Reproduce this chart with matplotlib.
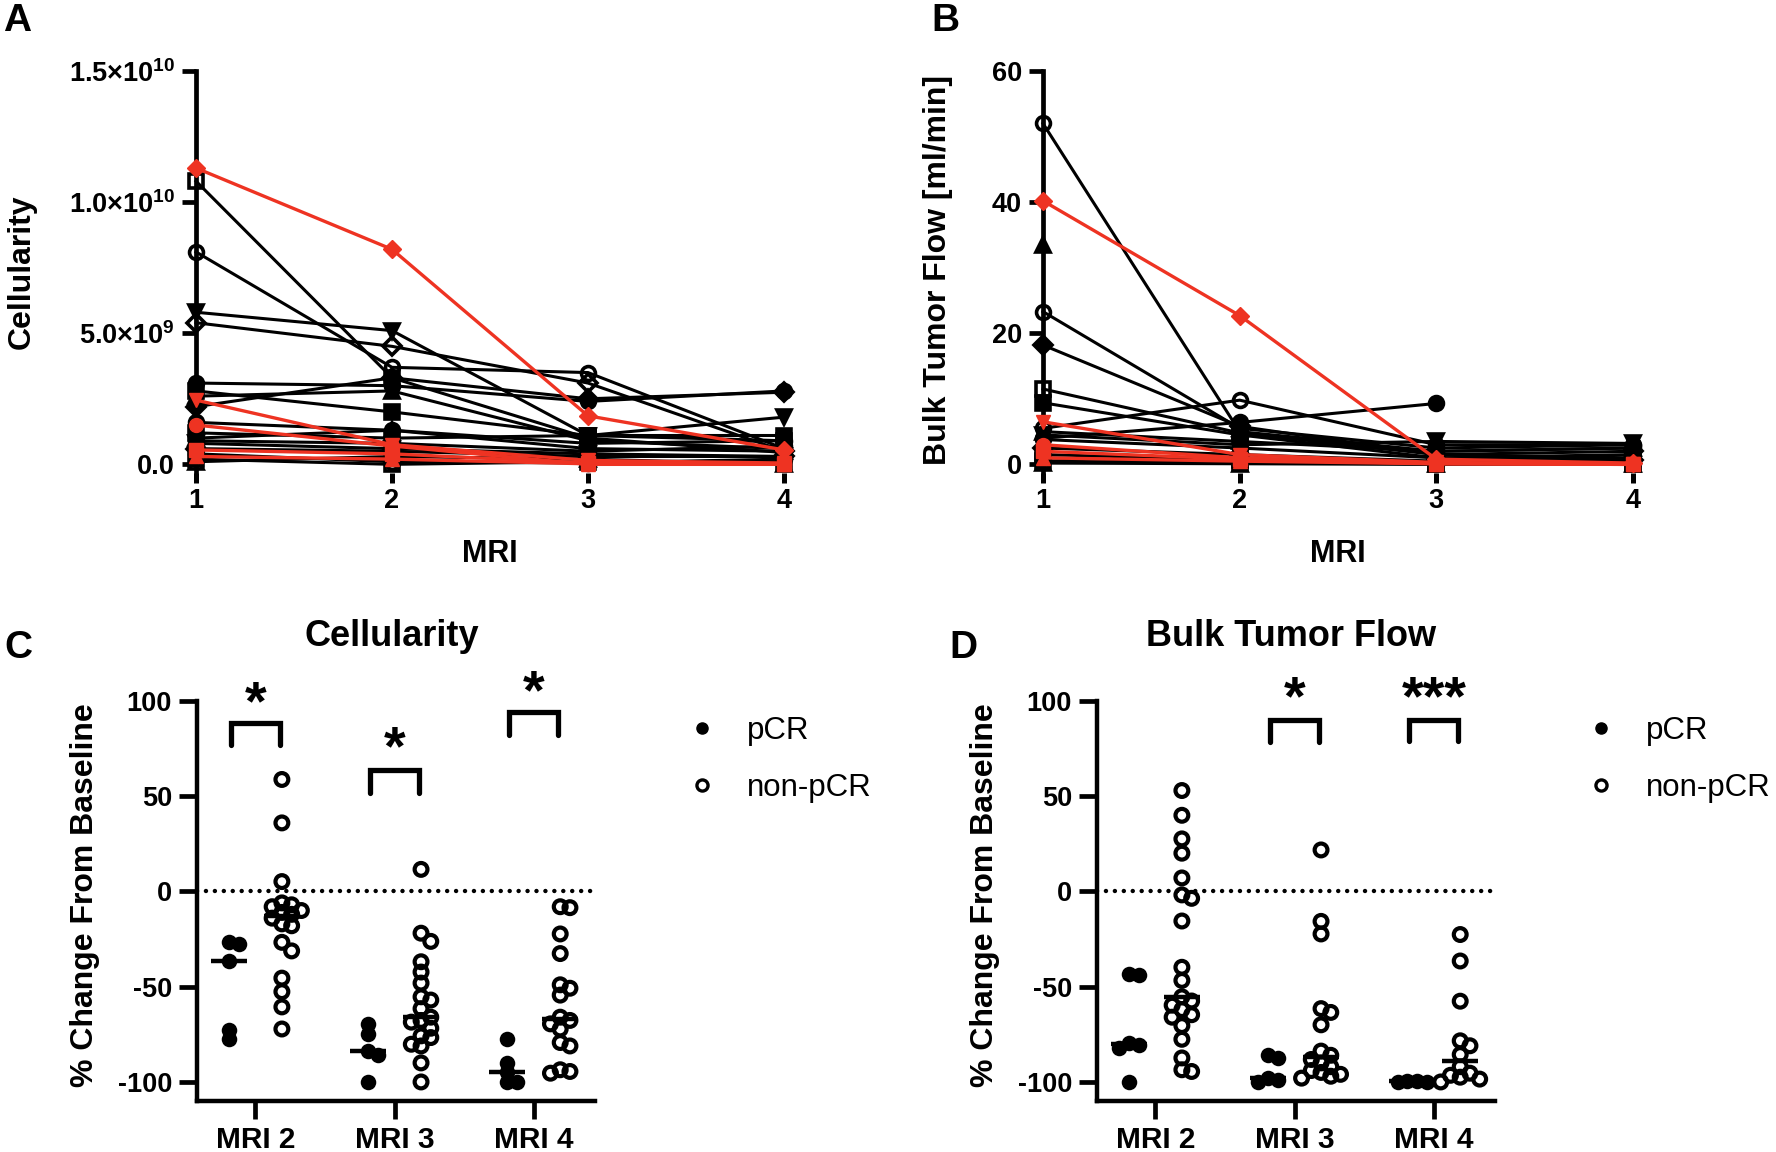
import numpy as np
import matplotlib.pyplot as plt
from matplotlib.lines import Line2D

plt.rcParams['font.family'] = ['Liberation Sans', 'DejaVu Sans']
plt.rcParams['font.weight'] = 'bold'
plt.rcParams['axes.labelweight'] = 'bold'
plt.rcParams['axes.unicode_minus'] = False
plt.rcParams['mathtext.fontset'] = 'custom'
plt.rcParams['mathtext.rm'] = 'Liberation Sans:bold'
plt.rcParams['mathtext.default'] = 'rm'

RED = '#EE3322'

# ---- panel A / B: per-patient values at MRI 1..4 ----
visits = [1, 2, 3, 4]

# cellularity, in units of 1e9 cells
cell_pcr = [
    [11.3, 8.2, 1.85, 0.55],
    [2.45, 0.75, 0.15, 0.05],
    [1.5, 0.7, 0.0, 0.0],
    [0.55, 0.4, 0.05, 0.02],
    [0.3, 0.2, 0.02, 0.0],
]
cell_non = [
    [10.8, 3.3, 1.0, 0.45],
    [8.1, 3.7, 3.5, 0.6],
    [5.8, 5.1, 1.1, 1.8],
    [5.4, 4.5, 3.1, 0.5],
    [3.1, 3.0, 2.4, 2.8],
    [2.2, 3.3, 2.5, 2.75],
    [2.8, 2.0, 1.1, 0.9],
    [2.6, 2.8, 0.9, 0.6],
    [1.6, 1.3, 0.8, 0.9],
    [1.2, 1.0, 1.1, 1.1],
    [1.0, 1.3, 0.6, 0.5],
    [0.8, 0.6, 0.4, 0.3],
    [0.6, 0.5, 0.3, 0.3],
    [0.9, 0.8, 0.5, 0.7],
    [0.4, 0.1, 0.05, 0.2],
    [0.2, 0.0, 0.1, 0.1],
    [0.1, 0.3, 0.2, 0.0],
]

# bulk tumor flow, ml/min
flow_pcr = [
    [40.2, 22.7, 0.8, 0.2],
    [6.5, 1.5, 0.3, 0.1],
    [3.0, 1.0, 0.2, 0.1],
    [2.0, 0.8, 0.1, 0.0],
    [1.0, 0.5, 0.1, 0.0],
]
flow_non = [
    [11.5, 4.8, 1.5, 1.0],
    [52.0, 5.0, 2.0, 2.5],
    [33.5, np.nan, np.nan, np.nan],
    [23.3, 5.5, 2.5, 3.0],
    [18.2, 5.8, 1.5, 2.0],
    [9.4, 4.5, 1.0, 1.5],
    [5.5, 9.8, 3.0, 3.0],
    [4.0, 6.4, 9.3, np.nan],
    [5.0, 3.5, 2.0, 2.5],
    [4.5, 3.0, 3.5, 3.2],
    [3.8, 2.5, 1.0, 0.8],
    [2.5, 1.5, 0.5, 0.6],
    [1.5, 0.7, 0.3, 0.2],
    [1.0, 0.3, 0.1, 0.2],
    [0.5, 0.2, 0.1, 0.1],
    [0.2, 0.1, 0.0, 0.05],
]

mk_pcr = ['D', 'v', 'o', 's', '^']
mk_cell = ['s', 'o', 'v', 'D', 'o', 'D', 's', '^', 'o', 's', '^', 'v', 'D', 'o', 'o', 's', '^']
open_cell = [True, True, False, True, False, False, False, False, False, False, False, False,
             False, False, True, True, True]
mk_flow = ['s', 'o', '^', 'o', 'D', 's', 'o', 'o', '^', 'v', 'o', 'D', 's', 'o', 's', '^']
open_flow = [True, True, False, True, False, False, True, False, False, False, False, False,
             False, True, True, True]

# ---- panel C / D: % change from baseline ----
groups = ['MRI 2', 'MRI 3', 'MRI 4']
cell_chg_pcr = [
    [-26.7, -27.6, -36.5, -72.6, -77.6],
    [-69.5, -74.9, -83.8, -85.6, -100.0],
    [-77.6, -90.0, -95.0, -100.0, -100.0],
]
cell_chg_non = [
    [58.8, 36.0, 5.2, -6.0, -7.0, -8.0, -10.0, -11.0, -12.0, -14.0, -17.0, -18.0,
     -26.7, -31.2, -45.5, -52.6, -60.6, -72.2],
    [11.6, -21.9, -26.2, -36.9, -42.3, -48.1, -55.3, -57.0, -61.5, -66.0, -67.7,
     -68.6, -71.8, -75.8, -76.7, -80.2, -81.1, -90.0, -100.0],
    [-8.0, -8.5, -22.3, -32.6, -49.0, -50.8, -54.4, -66.0, -67.7, -69.5, -72.2,
     -79.3, -81.1, -93.6, -94.5, -95.4],
]
flow_chg_pcr = [
    [-43.3, -43.8, -79.3, -80.5, -82.0, -100.0],
    [-86.0, -87.5, -98.0, -99.0, -100.0],
    [-99.5, -99.6, -99.8, -100.0],
]
flow_chg_non = [
    [53.0, 40.0, 27.6, 20.1, 7.1, -1.8, -3.6, -15.5, -39.8, -46.7, -55.3, -57.5,
     -59.7, -62.0, -64.7, -66.0, -70.4, -77.6, -87.4, -93.6, -94.5],
    [21.8, -15.7, -22.3, -61.5, -63.5, -70.0, -83.8, -86.0, -88.2, -90.0, -92.0,
     -94.0, -95.0, -96.0, -97.0, -98.0],
    [-22.6, -36.5, -57.6, -78.4, -81.0, -85.6, -92.0, -95.4, -96.5, -97.5, -98.5, -100.0],
]
# significance: (group index, label, bracket top, leg bottom, star centre)
cell_sig = [(0, '*', 88.2, 76.7, 101.6), (1, '*', 63.6, 51.7, 77.6), (2, '*', 94.0, 82.0, 107.0)]
flow_sig = [(1, '*', 90.0, 78.4, 104.0), (2, '***', 90.0, 79.0, 104.0)]

W, H = 1776, 1152
fig = plt.figure(figsize=(W / 100, H / 100), dpi=100)


def rect(l, t, r, b):
    return [l / W, 1 - b / H, (r - l) / W, (b - t) / H]


def line_panel(ax, pcr, non, mks, opens, scale, ylim, yticks, yticklabels, ylabel):
    for vals, m, op in zip(non, mks, opens):
        v = np.array(vals) * scale
        ax.plot(visits, v, color='k', lw=2.2, marker=m, ms=10 if m != 'D' else 9,
                mfc='none' if op else 'k', mec='k', mew=2.6, clip_on=False, zorder=3)
    for vals, m in zip(pcr, mk_pcr):
        v = np.array(vals) * scale
        ax.plot(visits, v, color=RED, lw=2.4, marker=m, ms=10 if m != 'D' else 9,
                mfc=RED, mec=RED, clip_on=False, zorder=4)
    ax.set_xlim(1, 4)
    ax.set_ylim(*ylim)
    ax.set_xticks(visits)
    ax.set_yticks(yticks)
    ax.set_yticklabels(yticklabels)
    for s in ['top', 'right', 'bottom']:
        ax.spines[s].set_visible(False)
    ax.spines['left'].set_linewidth(3.4)
    ax.tick_params(axis='y', width=3.4, length=10, labelsize=19.5, pad=5)
    ax.tick_params(axis='x', width=3.6, length=7, labelsize=19.5, pad=4)
    ax.set_xlabel('MRI', fontsize=22, labelpad=18)
    ax.set_ylabel(ylabel, fontsize=23)


def swarm(vals, center, step=0.07, xpx=139.0, ypx=1.9, gap=9.0):
    placed, xs = [], []
    for v in vals:
        k = 0
        pos = None
        while pos is None:
            cands = [center] if k == 0 else [center + k * step, center - k * step]
            for c in cands:
                if all(((c - px) * xpx) ** 2 + ((v - py) * ypx) ** 2 >= gap ** 2 for px, py in placed):
                    pos = c
                    break
            k += 1
        placed.append((pos, v))
        xs.append(pos)
    return xs


def scatter_panel(ax, pcr, non, sig, title_x, title):
    ax.axhline(0, color='k', lw=3.2, ls=(0, (0.01, 2.0)), dash_capstyle='round', zorder=1)
    for i in range(len(groups)):
        for vals, off, filled in [(pcr[i], -0.19, True), (non[i], 0.19, False)]:
            c = i + off
            xs = swarm(vals, c)
            if filled:
                ax.scatter(xs, vals, s=125, color='k', lw=0, clip_on=False, zorder=3)
            else:
                ax.scatter(xs, vals, s=85, facecolors='none', edgecolors='k', lw=3,
                           clip_on=False, zorder=3)
            med = np.median(vals)
            ax.plot([c - 0.13, c + 0.13], [med, med], color='k', lw=3.2, zorder=4,
                    solid_capstyle='butt')
    for i, lab, top, leg, star in sig:
        x1, x2 = i - 0.175, i + 0.175
        ax.plot([x1, x1, x2, x2], [leg, top, top, leg], color='k', lw=3.8,
                clip_on=False, solid_joinstyle='miter', solid_capstyle='round')
        ax.text(i, star - 11, lab, ha='center', va='baseline', fontsize=40)
    ax.set_xlim(-0.42, 2.44)
    ax.set_ylim(-110, 100)
    ax.set_xticks(range(len(groups)))
    ax.set_xticklabels(groups)
    ax.set_yticks([-100, -50, 0, 50, 100])
    for s in ['top', 'right']:
        ax.spines[s].set_visible(False)
    for s in ['left', 'bottom']:
        ax.spines[s].set_linewidth(3.2)
    ax.tick_params(axis='both', width=3.4, length=13)
    ax.tick_params(axis='y', pad=5, labelsize=19.5)
    ax.tick_params(axis='x', pad=5, labelsize=21.5)
    ax.set_ylabel('% Change From Baseline', fontsize=23)
    ax.yaxis.set_label_coords(-0.244, 0.515)
    fig.text(title_x / W, 1 - 637 / H, title, ha='center', va='center', fontsize=26)
    handles = [Line2D([], [], ls='', marker='o', color='k', ms=8),
               Line2D([], [], ls='', marker='o', mfc='none', mec='k', mew=2.4, ms=8)]
    ax.legend(handles, ['pCR', 'non-pCR'], loc='upper left', frameon=False,
              bbox_to_anchor=((title_x + 282) / W, 1 - 703 / H), bbox_transform=fig.transFigure,
              prop={'weight': 'normal', 'size': 22.5}, handlelength=1.0,
              handletextpad=0.95, labelspacing=0.87, borderaxespad=0)


axA = fig.add_axes(rect(196, 71, 784, 473))
axB = fig.add_axes(rect(1043, 71, 1633, 473))
axC = fig.add_axes(rect(197, 701, 595, 1101))
axD = fig.add_axes(rect(1097, 701, 1495, 1101))

line_panel(axA, cell_pcr, cell_non, mk_cell, open_cell, 1e9, (-0.33e9, 15e9),
           [0, 5e9, 1e10, 1.5e10],
           ['0.0', r'5.0×10$^{9}$', r'1.0×10$^{10}$', r'1.5×10$^{10}$'], 'Cellularity')
line_panel(axB, flow_pcr, flow_non, mk_flow, open_flow, 1.0, (-1.31, 60), [0, 20, 40, 60],
           ['0', '20', '40', '60'], 'Bulk Tumor Flow [ml/min]')
axA.yaxis.set_label_coords(-0.27, 0.50)
axB.yaxis.set_label_coords(-0.153, 0.506)

scatter_panel(axC, cell_chg_pcr, cell_chg_non, cell_sig, 392, 'Cellularity')
scatter_panel(axD, flow_chg_pcr, flow_chg_non, flow_sig, 1291, 'Bulk Tumor Flow')

for lab, x, y in [('A', 3, 21), ('B', 931, 21), ('C', 4, 648), ('D', 949, 648)]:
    fig.text(x / W, 1 - y / H, lab, ha='left', va='center', fontsize=28)

fig.savefig('out.png', dpi=100)
